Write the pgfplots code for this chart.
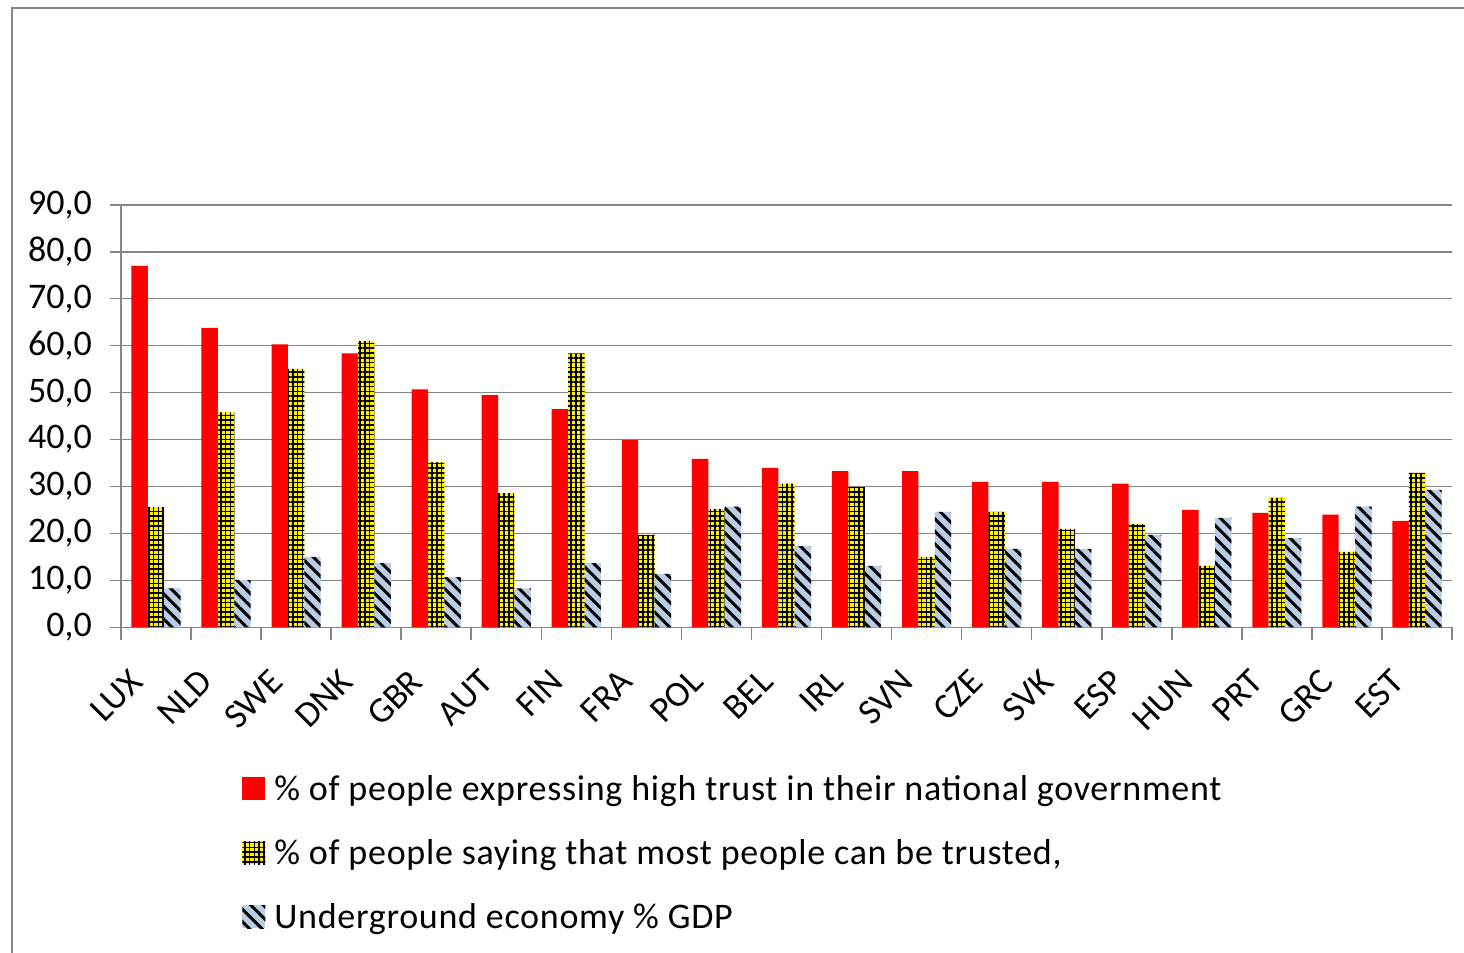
\documentclass[border=0pt]{standalone}
\usepackage{fontspec}
\setmainfont{Carlito}
\usepackage{pgfplots}
\pgfplotsset{compat=1.18}
\usetikzlibrary{patterns.meta}
\definecolor{gridgray}{RGB}{134,134,134}
\definecolor{barblue}{RGB}{185,205,229}
\pgfplotsset{sqlegend/.style={legend image code/.code={\draw[##1,draw=none] (0bp,-5.5bp) rectangle (11.5bp,6bp); \path (14bp,0bp);}}}
\begin{document}
\begin{tikzpicture}
\useasboundingbox (0,0) rectangle (732bp,476.5bp);
\draw[gridgray, line width=1bp] (6bp,-2bp) -- (6bp,472.5bp) -- (734bp,472.5bp);
\begin{axis}[
  at={(60.5bp,162.85bp)}, anchor=south west,
  scale only axis, width=665.5bp, height=211.15bp,
  xmin=-0.5, xmax=18.5, ymin=0, ymax=90,
  ybar=0pt, bar width=8.2bp,
  axis lines=left, axis line style={-, draw=gridgray, line width=0.8bp},
  xtick={0,...,18},
  xticklabels={LUX,NLD,SWE,DNK,GBR,AUT,FIN,FRA,POL,BEL,IRL,SVN,CZE,SVK,ESP,HUN,PRT,GRC,EST},
  minor xtick={-0.5,0.5,...,18.5},
  x tick style={draw=none},
  minor x tick style={draw=gridgray, line width=0.8bp},
  minor tick length=6.5bp,
  major tick length=5.5bp,
  tick align=outside,
  ytick={0,10,...,90},
  y tick style={draw=gridgray, line width=0.6bp},
  ymajorgrids, major grid style={draw=gridgray, line width=0.6bp},
  tick label style={font=\fontsize{18bp}{22bp}\selectfont},
  y tick label style={xshift=-5.5bp, /pgf/number format/.cd, fixed, fixed zerofill, precision=1, use comma, assume math mode=true},
  x tick label style={xshift=-14bp, yshift=-13bp, rotate=45, anchor=north east, inner sep=1bp},
  legend cell align=left,
  legend style={at={(0.0909,-0.34)}, anchor=north west, draw=none, fill=none, inner sep=0pt,
    row sep=14bp, font=\fontsize{18bp}{22bp}\selectfont\addfontfeatures{LetterSpace=2}},
]
\addplot[fill=red, draw=none, sqlegend]
  coordinates {(0,77.0) (1,63.8) (2,60.3) (3,58.4) (4,50.7) (5,49.5) (6,46.5) (7,39.9) (8,35.9) (9,34.0) (10,33.3) (11,33.3) (12,31.0) (13,31.0) (14,30.6) (15,25.0) (16,24.4) (17,24.0) (18,22.7)};
\addplot[fill=yellow, draw=none, postaction={pattern={Hatch[distance=2.4bp, line width=0.75bp]}, pattern color=black}, sqlegend]
  coordinates {(0,25.6) (1,45.8) (2,55.1) (3,61.0) (4,35.2) (5,28.6) (6,58.4) (7,19.7) (8,25.2) (9,30.6) (10,29.9) (11,15.0) (12,24.6) (13,21.0) (14,22.0) (15,13.1) (16,27.6) (17,16.1) (18,32.9)};
\addplot[fill=barblue, draw=none, postaction={pattern={Lines[angle=-45, distance=4.4bp, line width=1.5bp]}, pattern color=black}, sqlegend]
  coordinates {(0,8.3) (1,10.1) (2,15.0) (3,13.7) (4,10.7) (5,8.3) (6,13.7) (7,11.4) (8,25.7) (9,17.3) (10,13.1) (11,24.6) (12,16.7) (13,16.7) (14,19.7) (15,23.3) (16,19.0) (17,25.7) (18,29.3)};
\legend{\% of people expressing high trust in their national government, {\% of people saying that most people can be trusted,}, Underground economy \% GDP}
\end{axis}
\end{tikzpicture}
\end{document}
